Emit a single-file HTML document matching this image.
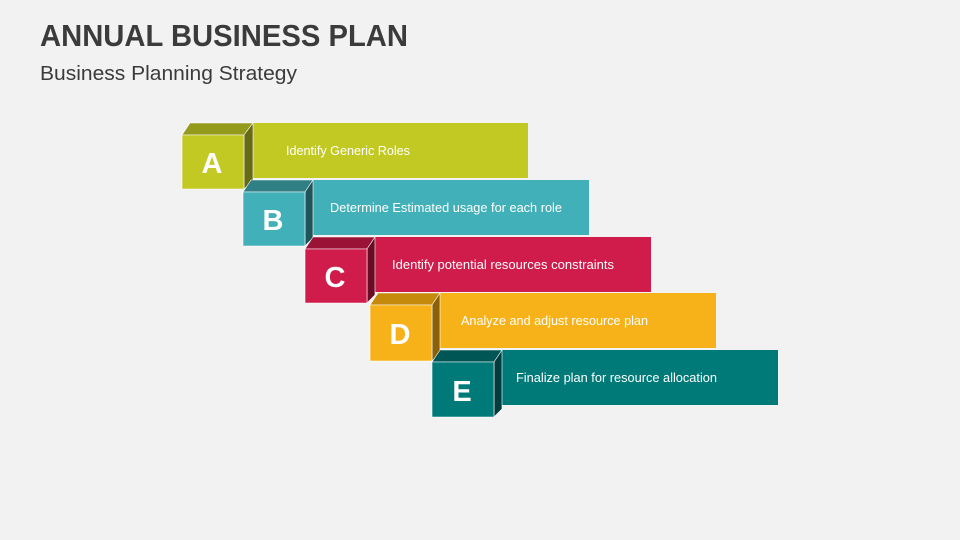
<!DOCTYPE html>
<html><head><meta charset="utf-8"><style>
html,body{margin:0;padding:0;background:#f2f2f2;}
svg{display:block;}
</style></head><body>
<svg width="960" height="540" viewBox="0 0 960 540" xmlns="http://www.w3.org/2000/svg" font-family="'Liberation Sans', sans-serif">
<rect width="960" height="540" fill="#f2f2f2"/>
<text x="40" y="46" font-size="31" font-weight="bold" fill="#3b3b3b" textLength="368" lengthAdjust="spacingAndGlyphs">ANNUAL BUSINESS PLAN</text>
<text x="40" y="80" font-size="20" fill="#3b3b3b" textLength="257" lengthAdjust="spacingAndGlyphs">Business Planning Strategy</text>

<g stroke="#ffffff" stroke-width="0.6" stroke-linejoin="round">
<rect x="253" y="123" width="275" height="55" fill="#c2c923" stroke="none"/>
<polygon points="182,135 190,123 253,123 244,135" fill="#939a1c"/>
<polygon points="244,135 253,123 253,181 244,189" fill="#666a12"/>
<rect x="182" y="135" width="62" height="54" fill="#c2c923"/>
</g>
<g stroke="#ffffff" stroke-width="0.6" stroke-linejoin="round">
<rect x="313" y="180" width="276" height="55" fill="#42b0b8" stroke="none"/>
<polygon points="243,192 251,180 313,180 305,192" fill="#2f7f85"/>
<polygon points="305,192 313,180 313,238 305,246" fill="#1f5458"/>
<rect x="243" y="192" width="62" height="54" fill="#42b0b8"/>
</g>
<g stroke="#ffffff" stroke-width="0.6" stroke-linejoin="round">
<rect x="375" y="237" width="276" height="55" fill="#cf1c4b" stroke="none"/>
<polygon points="305,249 313,237 375,237 367,249" fill="#9a1236"/>
<polygon points="367,249 375,237 375,295 367,303" fill="#6a0c25"/>
<rect x="305" y="249" width="62" height="54" fill="#cf1c4b"/>
</g>
<g stroke="#ffffff" stroke-width="0.6" stroke-linejoin="round">
<rect x="440" y="293" width="276" height="55" fill="#f8b219" stroke="none"/>
<polygon points="370,305 378,293 440,293 432,305" fill="#c58a0c"/>
<polygon points="432,305 440,293 440,353 432,361" fill="#8a6108"/>
<rect x="370" y="305" width="62" height="56" fill="#f8b219"/>
</g>
<g stroke="#ffffff" stroke-width="0.6" stroke-linejoin="round">
<rect x="502" y="350" width="276" height="55" fill="#007a78" stroke="none"/>
<polygon points="432,362 440,350 502,350 494,362" fill="#005654"/>
<polygon points="494,362 502,350 502,409 494,417" fill="#003d3c"/>
<rect x="432" y="362" width="62" height="55" fill="#007a78"/>
</g>

<g fill="#ffffff" font-weight="bold" font-size="29" text-anchor="middle">
<text x="212" y="173">A</text>
<text x="273" y="230">B</text>
<text x="335" y="287">C</text>
<text x="400" y="344">D</text>
<text x="462" y="401">E</text>
</g>
<g fill="#ffffff" font-size="13">
<text x="286" y="155" textLength="124" lengthAdjust="spacingAndGlyphs">Identify Generic Roles</text>
<text x="330" y="212" textLength="232" lengthAdjust="spacingAndGlyphs">Determine Estimated usage for each role</text>
<text x="392" y="269" textLength="222" lengthAdjust="spacingAndGlyphs">Identify potential resources constraints</text>
<text x="461" y="325" textLength="187" lengthAdjust="spacingAndGlyphs">Analyze and adjust resource plan</text>
<text x="516" y="382" textLength="201" lengthAdjust="spacingAndGlyphs">Finalize plan for resource allocation</text>
</g>
</svg>
</body></html>
